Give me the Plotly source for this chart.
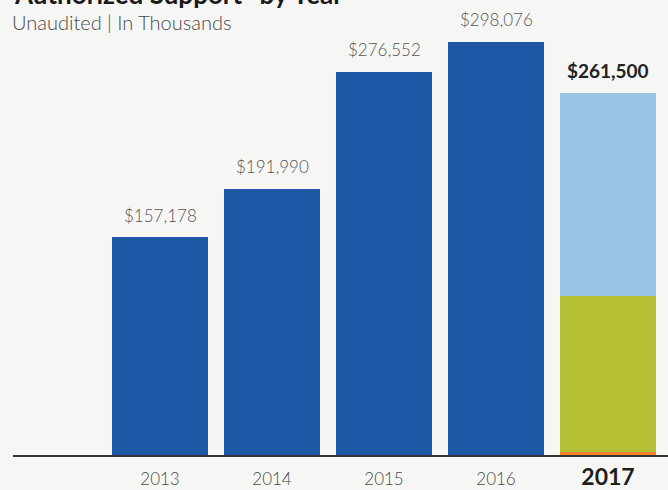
import plotly.graph_objects as go

# Authorized support by fiscal year, in thousands of dollars
years = ["2013", "2014", "2015", "2016", "2017"]
past_years = ["2013", "2014", "2015", "2016"]
past_support = [157178, 191990, 276552, 298076]

# 2017 total split into its three components (bottom to top)
support_2017_parts = [2300, 112100, 147100]
support_2017_total = 261500
part_colors = ["#f0822a", "#b5bf34", "#9bc3e6"]

tick_labels = ["2013", "2014", "2015", "2016",
               "<b><span style='font-size:23px;color:#1e1e1e'>2017</span></b>"]

W, H = 668, 490
M_L, M_R, M_T, M_B = 13, 0, 40, 33
plot_h = H - M_T - M_B
px_per_unit = 1.3925 / 1000.0          # pixels per thousand-dollar unit
y_top = plot_h / px_per_unit

LIGHT = "Source Sans Pro, Lato, sans-serif"

fig = go.Figure()

fig.add_trace(go.Bar(
    x=past_years, y=past_support,
    marker=dict(color="#1f57a7", line=dict(width=0)),
    hoverinfo="x+y", showlegend=False,
))

for val, col in zip(support_2017_parts, part_colors):
    fig.add_trace(go.Bar(
        x=["2017"], y=[val],
        marker=dict(color=col, line=dict(width=0)),
        hoverinfo="x+y", showlegend=False,
    ))

# value labels above each bar (category index used for x position)
for yr, val in zip(past_years, past_support):
    fig.add_annotation(
        x=years.index(yr), y=val, text=f"${val:,}", showarrow=False,
        yanchor="middle", yshift=22,
        font=dict(family=LIGHT, size=17, color="#555555", weight=300),
    )
fig.add_annotation(
    x=years.index("2017"), y=support_2017_total,
    text=f"<b>${support_2017_total:,}</b>",
    showarrow=False, yanchor="middle", yshift=22,
    font=dict(family=LIGHT, size=19, color="#222222"),
)

# title block
fig.add_annotation(
    xref="paper", yref="paper", x=-0.001, y=1 + (M_T + 6) / plot_h,
    xanchor="left", yanchor="middle", showarrow=False,
    text="<b>Authorized Support* by Year</b>",
    font=dict(family="Lato, sans-serif", size=26, color="#1a1a1a"),
)
fig.add_annotation(
    xref="paper", yref="paper", x=-0.004, y=1 + (M_T - 22) / plot_h,
    xanchor="left", yanchor="middle", showarrow=False,
    text="Unaudited | In Thousands",
    font=dict(family=LIGHT, size=20, color="#4a4a4a", weight=300),
)

fig.update_layout(
    width=W, height=H,
    margin=dict(l=M_L, r=M_R, t=M_T, b=M_B),
    barmode="stack", bargap=0.143,
    paper_bgcolor="#f6f6f5", plot_bgcolor="#f6f6f5",
    xaxis=dict(
        type="category", categoryorder="array", categoryarray=years,
        range=[-1.3125, 4.5357],
        tickvals=years, ticktext=tick_labels,
        showline=True, linecolor="#333333", linewidth=1.5,
        showgrid=False, zeroline=False, ticks="",
        ticklabelstandoff=8,
        tickfont=dict(family=LIGHT, size=17, color="#4a4a4a", weight=300),
        layer="below traces",
    ),
    yaxis=dict(range=[0, y_top], visible=False, showgrid=False, zeroline=False),
)

fig.write_html("out.html")
